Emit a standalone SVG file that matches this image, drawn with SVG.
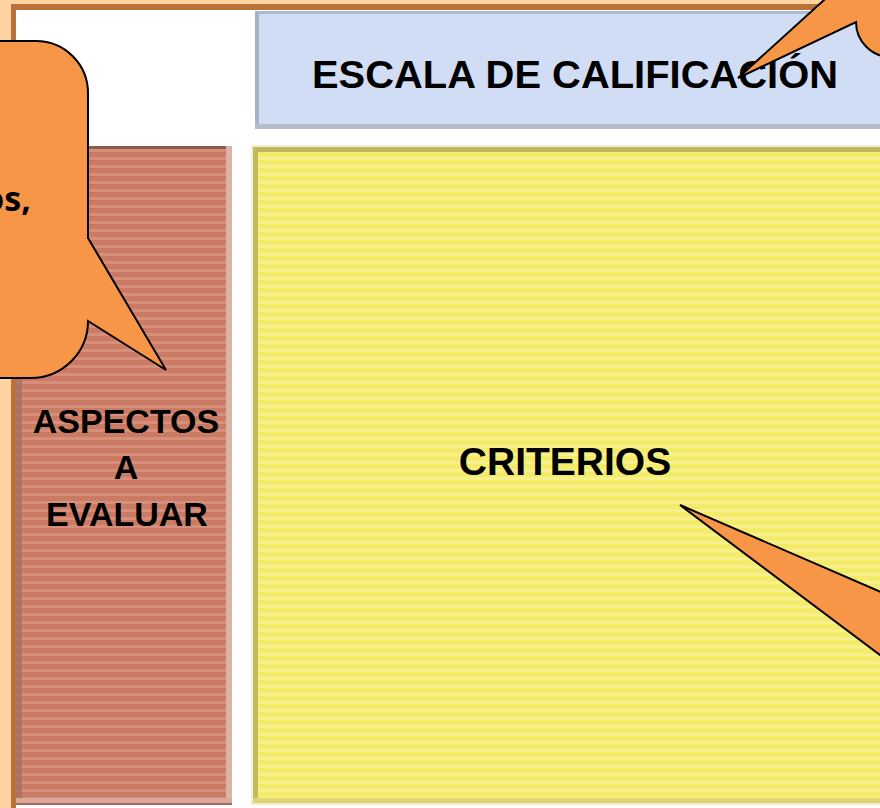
<svg xmlns="http://www.w3.org/2000/svg" width="880" height="808" viewBox="0 0 880 808">
  <defs>
    <pattern id="stripeBrown" patternUnits="userSpaceOnUse" width="10" height="8">
      <rect width="10" height="8" fill="#CB7B63"/>
      <rect y="5" width="10" height="3" fill="#D58F7A"/>
    </pattern>
    <pattern id="stripeYellow" patternUnits="userSpaceOnUse" width="10" height="8">
      <rect width="10" height="8" fill="#F4EB6B"/>
      <rect y="5" width="10" height="3" fill="#F7F08E"/>
    </pattern>
  </defs>
  <style>
    .lbl { font-family: "Liberation Sans", Arial, sans-serif; font-weight: bold; fill: #000; text-anchor: middle; }
    .callout { fill: #F79646; stroke: #000; stroke-width: 2; stroke-linejoin: miter; }
    .ctext { font-family: "Noto Sans", "Open Sans", sans-serif; font-weight: bold; fill: #000; }
  </style>

  <g id="frame">
    <rect x="0" y="0" width="880" height="808" fill="#FFD4A2"/>
    <rect x="11" y="4" width="880" height="820" fill="#B8713A"/>
    <rect x="16" y="10" width="880" height="820" fill="#FFFFFF"/>
  </g>

  <g id="node-escala">
    <rect x="255" y="11" width="640" height="118" fill="#D1DDF4"/>
    <rect x="255" y="11" width="640" height="3" fill="#B0B9CD"/>
    <rect x="255" y="11" width="4" height="118" fill="#A8B2C6"/>
    <rect x="255" y="124" width="640" height="5" fill="#B5BDCC"/>
    <text class="lbl" x="575" y="88" font-size="39" textLength="526" lengthAdjust="spacingAndGlyphs">ESCALA DE CALIFICACIÓN</text>
  </g>

  <g id="node-aspectos">
    <rect x="16" y="146" width="216" height="659" fill="url(#stripeBrown)"/>
    <rect x="16" y="146" width="216" height="3" fill="#8C5C4E"/>
    <rect x="16" y="146" width="6" height="659" fill="#A47264" opacity="0.8"/>
    <rect x="226" y="146" width="6" height="659" fill="#DDB2A8"/>
    <rect x="16" y="798" width="216" height="5" fill="#DBA899"/>
    <rect x="16" y="803" width="216" height="2" fill="#9E6C60"/>
    <text class="lbl" x="126" y="433" font-size="34">ASPECTOS</text>
    <text class="lbl" x="126" y="479" font-size="34">A</text>
    <text class="lbl" x="127" y="526" font-size="34">EVALUAR</text>
  </g>

  <g id="node-criterios">
    <rect x="251" y="145" width="640" height="660" fill="#F2EED2"/>
    <rect x="253" y="147" width="640" height="656" fill="url(#stripeYellow)"/>
    <rect x="253" y="147" width="640" height="5" fill="#BEB65C"/>
    <rect x="253" y="147" width="5" height="656" fill="#C2BA5E"/>
    <rect x="253" y="798" width="640" height="5" fill="#DED670"/>
    <text class="lbl" x="565" y="475" font-size="39">CRITERIOS</text>
  </g>

  <g id="callouts">
    <g id="callout-left">
      <path class="callout" d="M -60,41 L 36,41 A 52,52 0 0 1 88,93 L 88,238 L 166,370 L 88,321 A 57,57 0 0 1 31,378 L -60,378 Z"/>
      <text class="ctext" x="31" y="211" font-size="34" text-anchor="end">os,</text>
    </g>
    <g id="callout-top-right">
      <path class="callout" d="M 738,78 L 856,-29 L 856,-60 L 960,-60 L 960,57 L 891,57 A 35,35 0 0 1 856,22 Z"/>
    </g>
    <g id="callout-bottom-right">
      <path class="callout" d="M 680,505 L 920,609 L 920,685 Z"/>
    </g>
  </g>
</svg>
